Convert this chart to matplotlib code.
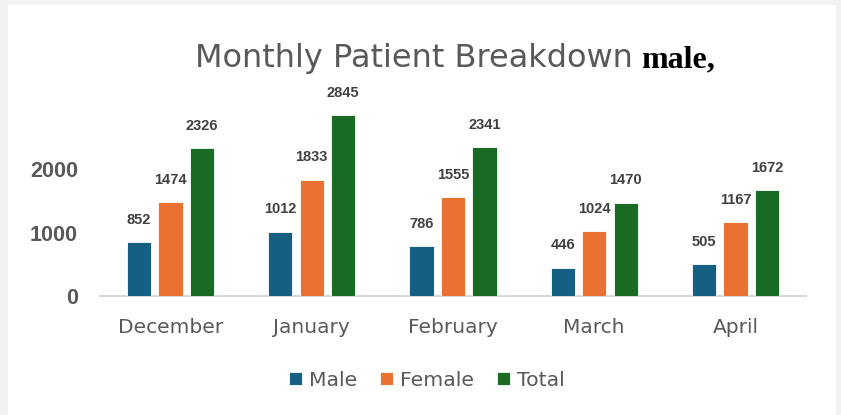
import matplotlib
matplotlib.use("Agg")
import matplotlib.pyplot as plt
from matplotlib.patches import Rectangle
import numpy as np

months = ["December", "January", "February", "March", "April"]
male = [852, 1012, 786, 446, 505]
female = [1474, 1833, 1555, 1024, 1167]
total = [2326, 2845, 2341, 1470, 1672]
series_names = ["Male", "Female", "Total"]
colors = ["#156082", "#E97132", "#196B24"]

fig = plt.figure(figsize=(8.41, 4.15), dpi=100)
fig.patch.set_facecolor("#F2F2F2")
bg = Rectangle((8/841, 0), (836-8)/841, 1 - 5/415, transform=fig.transFigure,
               facecolor="white", edgecolor="none", zorder=-10)
fig.patches.append(bg)

ax = fig.add_axes([100/841, 1 - 296/415, 706/841, (296-105.5)/415])
ax.set_facecolor("none")
ax.set_zorder(5)

x = np.arange(len(months))
w = 0.172
step = 0.223
handles = []
for i, (vals, c, name) in enumerate(zip([male, female, total], colors, series_names)):
    bars = ax.bar(x + (i - 1) * step, vals, width=w, color=c, label=name,
                  edgecolor="white", linewidth=0.6, zorder=3)
    handles.append(bars)
    for xi, v in zip(x + (i - 1) * step, vals):
        ax.annotate(str(v), (xi, v), xytext=(0, 11), textcoords="offset points",
                    ha="center", va="bottom", fontsize=10.5, fontweight="bold",
                    color="#404040", family="Liberation Sans", annotation_clip=False)

ax.set_xlim(-0.5, 4.5)
ax.set_ylim(0, 3000)
ax.set_yticks([0, 1000, 2000])
ax.set_yticklabels(["0", "1000", "2000"], fontsize=15.5, fontweight="bold",
                   color="#595959", family="Liberation Sans")
ax.set_xticks(x)
ax.set_xticklabels(months, fontsize=14.5, color="#595959", family="DejaVu Sans")
ax.tick_params(axis="y", length=0, pad=16)
ax.tick_params(axis="x", length=0, pad=16)
for s in ["top", "right", "left"]:
    ax.spines[s].set_visible(False)
ax.spines["bottom"].set_color("#D9D9D9")
ax.spines["bottom"].set_linewidth(1.5)
ax.spines["bottom"].set_zorder(2)

fig.text(195/841, 1 - 67/415, "Monthly Patient Breakdown", fontsize=23, color="#595959",
         family="DejaVu Sans", ha="left", va="baseline")
fig.text(641/841, 1 - 67/415, "male,", fontsize=23, color="black",
         family="Liberation Serif", fontweight="bold", ha="left", va="baseline")

leg = fig.legend(handles, series_names, loc="center", bbox_to_anchor=(427/841, 1 - 380/415),
                 ncol=3, frameon=False, handlelength=0.65, handleheight=0.65,
                 handletextpad=0.35, columnspacing=1.1,
                 prop={"family": "DejaVu Sans", "size": 14.7})
for t in leg.get_texts():
    t.set_color("#595959")

fig.savefig("out.png", dpi=100, facecolor=fig.get_facecolor())
